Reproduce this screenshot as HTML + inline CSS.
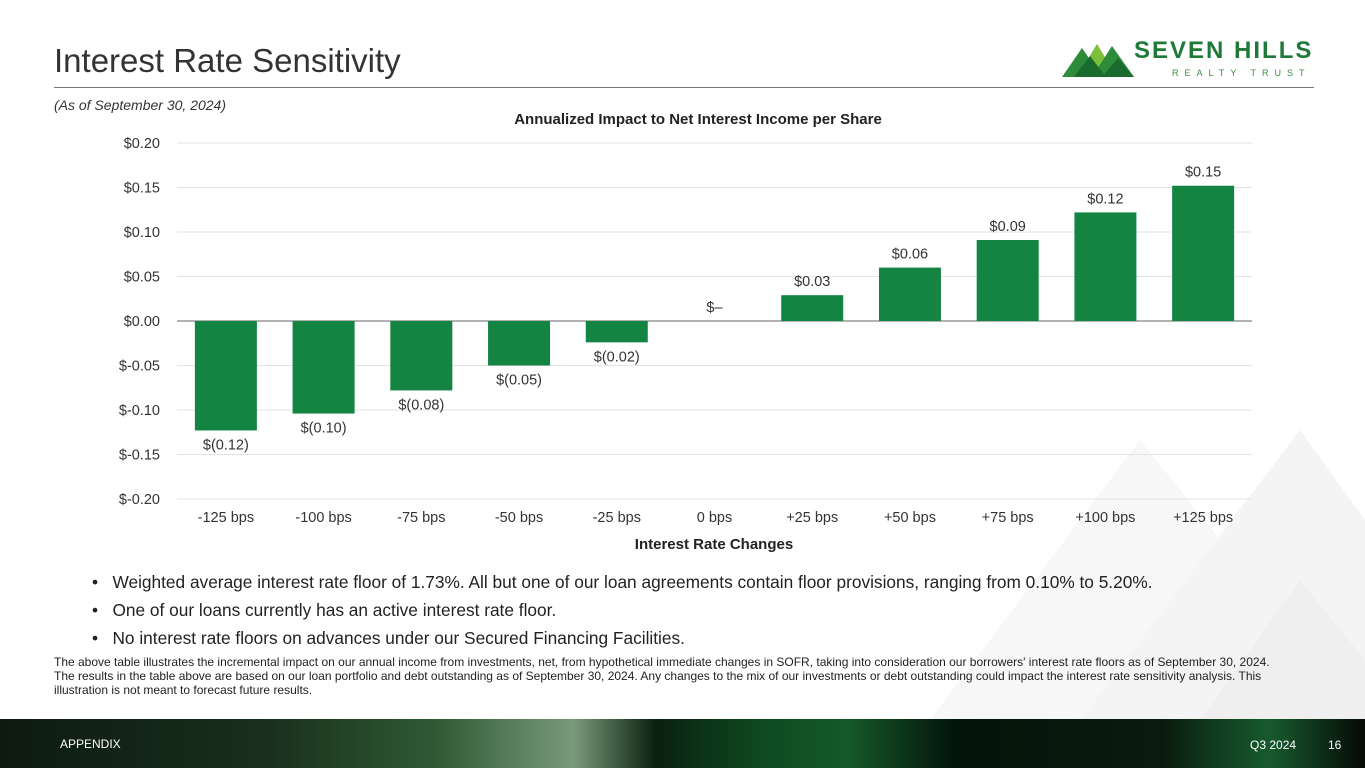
<!DOCTYPE html>
<html><head><meta charset="utf-8"><style>
body{margin:0;width:1365px;height:768px;overflow:hidden;background:#fff;font-family:"Liberation Sans",sans-serif;position:relative}
.abs{position:absolute}
</style></head><body>
<svg class="abs" style="left:0;top:0" width="1365" height="768">
<polygon points="930,720 1140,440 1365,720" fill="#f7f7f7"/>
<polygon points="1080,720 1300,430 1365,520 1365,720" fill="#f4f4f4"/>
<polygon points="1200,720 1300,580 1365,660 1365,720" fill="#efefef"/>
</svg>
<div class="abs" style="left:54px;top:42px;font-size:33px;color:#333">Interest Rate Sensitivity</div>
<div class="abs" style="left:54px;top:87px;width:1260px;height:1px;background:#777"></div>
<svg class="abs" style="left:1062px;top:38px" width="75" height="40">
<polygon points="0,39 20,10 40,39" fill="#2e8b3a"/><polygon points="15,39 35,6 55,39" fill="#7bbf3a"/>
<polygon points="30,39 50,8 72,39" fill="#2e8b3a"/><polygon points="12,39 28,18 44,39" fill="#1a6b2e"/>
<polygon points="40,39 56,20 72,39" fill="#1a6b2e"/>
</svg>
<div class="abs" style="left:1134px;top:37px;font-size:24px;font-weight:bold;color:#1f7a3a;letter-spacing:2px">SEVEN HILLS</div>
<div class="abs" style="left:1172px;top:68px;font-size:9px;color:#3a8f3a;letter-spacing:6px">REALTY TRUST</div>
<div class="abs" style="left:54px;top:97px;font-size:14px;font-style:italic;color:#333">(As of September 30, 2024)</div>
<svg id="chart" class="abs" style="left:0;top:0" width="1365" height="560"></svg>
<div class="abs" style="left:92px;top:568px;font-size:17.3px;color:#222;line-height:28px">
<div>•&nbsp;&nbsp;&nbsp;Weighted average interest rate floor of 1.73%. All but one of our loan agreements contain floor provisions, ranging from 0.10% to 5.20%.</div>
<div>•&nbsp;&nbsp;&nbsp;One of our loans currently has an active interest rate floor.</div>
<div>•&nbsp;&nbsp;&nbsp;No interest rate floors on advances under our Secured Financing Facilities.</div>
</div>
<div class="abs" style="left:54px;top:655px;width:1230px;font-size:12px;color:#222;line-height:14px">The above table illustrates the incremental impact on our annual income from investments, net, from hypothetical immediate changes in SOFR, taking into consideration our borrowers' interest rate floors as of September 30, 2024. The results in the table above are based on our loan portfolio and debt outstanding as of September 30, 2024. Any changes to the mix of our investments or debt outstanding could impact the interest rate sensitivity analysis. This illustration is not meant to forecast future results.</div>
<div class="abs" style="left:0;top:719px;width:1365px;height:49px;background:linear-gradient(90deg,#0d1a10 0%,#1a301d 20%,#2f5a34 32%,#7a9a7a 42%,#0a2010 48%,#0e4a20 56%,#155a28 62%,#04140a 70%,#0a1a0e 85%,#175a2d 93%,#050a06 100%)"></div>
<div class="abs" style="left:60px;top:737px;font-size:12px;color:#fff">APPENDIX</div>
<div class="abs" style="left:1250px;top:738px;font-size:12px;color:#fff">Q3 2024</div>
<div class="abs" style="left:1328px;top:738px;font-size:12px;color:#fff">16</div>
<script>
const categories=["-125 bps","-100 bps","-75 bps","-50 bps","-25 bps","0 bps","+25 bps","+50 bps","+75 bps","+100 bps","+125 bps"];
const values=[-0.123,-0.104,-0.078,-0.050,-0.024,0,0.029,0.060,0.091,0.122,0.152];
const valueLabels=["$(0.12)","$(0.10)","$(0.08)","$(0.05)","$(0.02)","$–","$0.03","$0.06","$0.09","$0.12","$0.15"];
const yTicks=[0.20,0.15,0.10,0.05,0,-0.05,-0.10,-0.15,-0.20];
const yTickLabels=["$0.20","$0.15","$0.10","$0.05","$0.00","$-0.05","$-0.10","$-0.15","$-0.20"];
const svg=document.getElementById('chart');const NS='http://www.w3.org/2000/svg';
const L=177,R=1252,T=143,B=499;
const y=v=>T+(0.20-v)/0.40*(B-T);
const step=(R-L)/categories.length;
const x=i=>L+step*(i+0.5);
function mk(tag,attrs,txt){const e=document.createElementNS(NS,tag);for(const k in attrs)e.setAttribute(k,attrs[k]);if(txt!=null)e.textContent=txt;svg.appendChild(e);return e;}
let t=mk('text',{x:698,y:124,'text-anchor':'middle','font-size':15,'font-weight':'bold',fill:'#222'},'Annualized Impact to Net Interest Income per Share');


yTicks.forEach((v,i)=>{
 const g=mk('line',{x1:L,x2:R,y1:y(v),y2:y(v),stroke:v===0?'#999':'#e3e3e3','stroke-width':v===0?1.5:1});
 
 
 const tl=mk('text',{x:160,y:y(v)+5,'text-anchor':'end','font-size':14.5,fill:'#333'},yTickLabels[i]);
 
 
});
categories.forEach((c,i)=>{
 const v=values[i],bw=62;
 if(v!==0){
  const r=mk('rect',{x:x(i)-bw/2,y:Math.min(y(v),y(0)),width:bw,height:Math.abs(y(v)-y(0)),fill:'#138442'});
  
  
 }
 const ly=v>=0?y(v)-9:y(v)+19;
 const vl=mk('text',{x:x(i),y:ly,'text-anchor':'middle','font-size':14.5,fill:'#333'},valueLabels[i]);
 
 
 const xl=mk('text',{x:x(i),y:522,'text-anchor':'middle','font-size':14.5,fill:'#333'},c);
 
 
});
t=mk('text',{x:714,y:549,'text-anchor':'middle','font-size':15,'font-weight':'bold',fill:'#222'},'Interest Rate Changes');


</script>
</body></html>
